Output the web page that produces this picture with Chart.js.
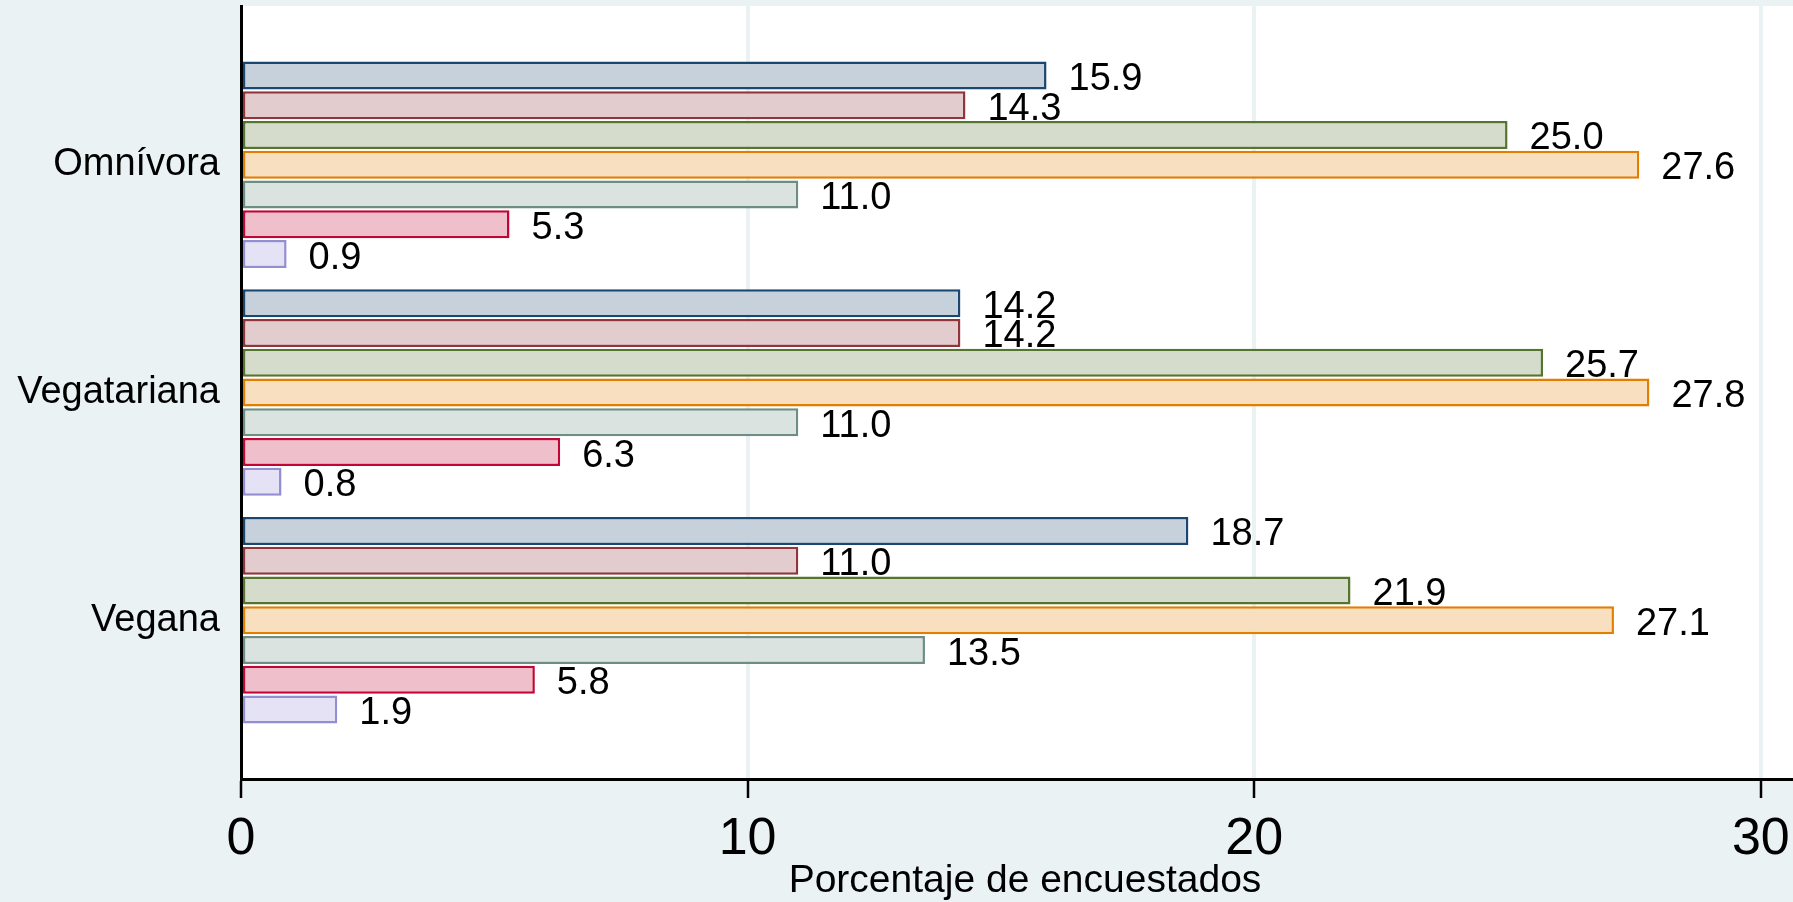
<!DOCTYPE html>
<html>
<head>
<meta charset="utf-8">
<script src="https://cdn.jsdelivr.net/npm/chart.js@4/dist/chart.umd.min.js"></script>
<style>
  html, body { margin: 0; padding: 0; background: #eaf2f3; overflow: hidden; width: 1793px; height: 902px; }
  #c { display: block; }
</style>
</head>
<body>
<canvas id="c" width="1809" height="902"></canvas>
<script>
// ---- data ----
const categories = ['Omnívora', 'Vegatariana', 'Vegana'];
const serie1 = [15.9, 14.2, 18.7];
const serie2 = [14.3, 14.2, 11.0];
const serie3 = [25.0, 25.7, 21.9];
const serie4 = [27.6, 27.8, 27.1];
const serie5 = [11.0, 11.0, 13.5];
const serie6 = [5.3, 6.3, 5.8];
const serie7 = [0.9, 0.8, 1.9];
const xTicks = [0, 10, 20, 30];
const axisTitle = 'Porcentaje de encuestados';

const seriesList = [serie1, serie2, serie3, serie4, serie5, serie6, serie7];
const borderColors = ['#1a476f', '#90353b', '#55752f', '#e37e00', '#6e8e84', '#c10534', '#938dd2'];
const fillColors   = ['#c6d1db', '#e3ccce', '#d5dccb', '#f8dfbf', '#dbe3e0', '#efc0cc', '#e4e2f4'];

const FONT = '"Liberation Sans", Arial, Helvetica, sans-serif';
const BG = '#eaf2f3';

const datasets = seriesList.map((vals, i) => ({
  label: 'Serie ' + (i + 1),
  data: vals.map((v, j) => ({ x: v, y: j + 1 })),
  backgroundColor: fillColors[i],
  borderColor: borderColors[i],
  borderWidth: 2.5,
  borderSkipped: false,
  categoryPercentage: 0.915,
  barPercentage: 0.94
}));

const bgPlugin = {
  id: 'bg',
  beforeDraw(chart) {
    const { ctx, chartArea: a, width, height } = chart;
    ctx.save();
    ctx.fillStyle = BG;
    ctx.fillRect(0, 0, width, height);
    ctx.fillStyle = '#ffffff';
    ctx.fillRect(a.left, a.top, width - a.left, a.bottom - a.top);
    ctx.restore();
  }
};

const labelPlugin = {
  id: 'barLabels',
  afterDatasetsDraw(chart) {
    const ctx = chart.ctx;
    ctx.save();
    ctx.font = '38px ' + FONT;
    ctx.fillStyle = '#000';
    ctx.textAlign = 'left';
    ctx.textBaseline = 'middle';
    chart.data.datasets.forEach((ds, di) => {
      const meta = chart.getDatasetMeta(di);
      meta.data.forEach((el, k) => {
        const v = ds.data[k].x;
        ctx.fillText(v.toFixed(1), el.x + 22, el.y + 4);
      });
    });
    ctx.restore();
  }
};

new Chart(document.getElementById('c'), {
  type: 'bar',
  data: { datasets },
  plugins: [bgPlugin, labelPlugin],
  options: {
    indexAxis: 'y',
    responsive: false,
    animation: false,
    layout: { padding: { top: 6, right: 0, bottom: 0, left: 0 } },
    plugins: { legend: { display: false }, tooltip: { enabled: false } },
    scales: {
      x: {
        type: 'linear',
        position: 'bottom',
        min: 0,
        max: 30.95,
        afterBuildTicks: s => { s.ticks = xTicks.map(v => ({ value: v })); },
        afterFit: s => { s.height = 123; },
        ticks: {
          color: '#000',
          font: { family: FONT, size: 52, lineHeight: 1.62 },
          padding: 0,
          maxRotation: 0,
          callback: v => String(v)
        },
        grid: {
          color: ctx => (ctx.tick && ctx.tick.value === 0) ? 'rgba(0,0,0,0)' : BG,
          lineWidth: 4,
          tickColor: '#000',
          tickWidth: 2.5,
          tickLength: 19,
          drawOnChartArea: true,
          drawTicks: true
        },
        border: { display: true, color: '#000', width: 3 },
        title: {
          display: true,
          text: axisTitle,
          color: '#000',
          font: { family: FONT, size: 39 },
          padding: { top: 0, bottom: -3 }
        }
      },
      y: {
        type: 'linear',
        position: 'left',
        reverse: true,
        offset: false,
        bounds: 'data',
        grace: 0,
        min: 0.303,
        max: 3.697,
        afterBuildTicks: s => { s.ticks = categories.map((c, i) => ({ value: i + 1 })); },
        afterFit: s => { s.width = 241; },
        ticks: {
          color: '#000',
          font: { family: FONT, size: 38, lineHeight: 0.3 },
          padding: 0,
          callback: v => categories[Math.round(v) - 1] || ''
        },
        grid: {
          display: true,
          color: 'rgba(0,0,0,0)',
          tickColor: 'rgba(0,0,0,0)',
          drawOnChartArea: false,
          drawTicks: true,
          tickLength: 21
        },
        border: { display: true, color: '#000', width: 3 }
      }
    }
  }
});
</script>
</body>
</html>
